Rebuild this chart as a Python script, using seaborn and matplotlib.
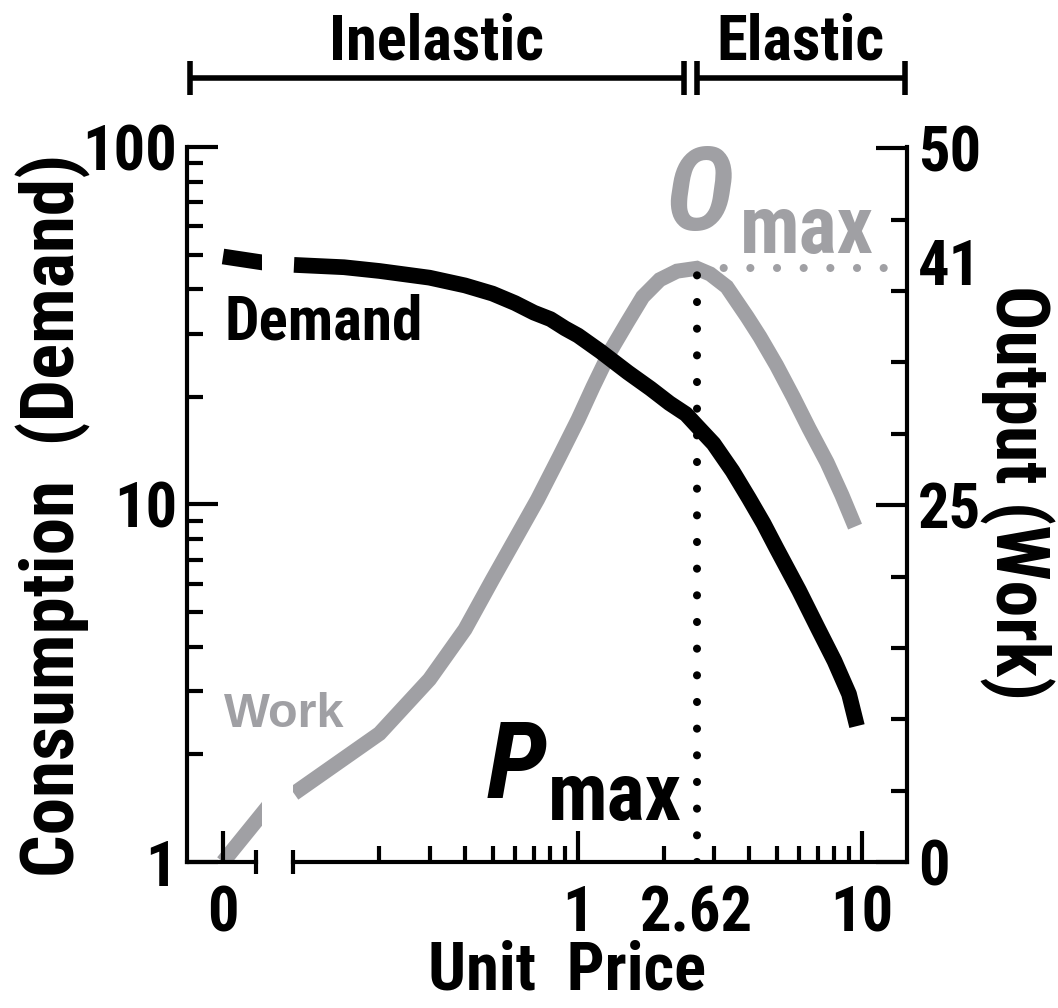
import numpy as np
import pandas as pd
import matplotlib
matplotlib.use("Agg")
import matplotlib.pyplot as plt
import seaborn as sns
from matplotlib import font_manager
from matplotlib.lines import Line2D
from matplotlib.ticker import FixedLocator, FixedFormatter, NullFormatter

# ---------------- data ----------------
demand_price = [0, 0.1, 0.15, 0.2, 0.3, 0.4, 0.5, 0.6, 0.7, 0.8, 0.9, 1.0, 1.2, 1.5, 1.8, 2.1, 2.4,
                2.62, 3.0, 3.5, 4.0, 4.5, 5.0, 6.0, 7.0, 8.0, 9.0, 9.6]
demand_consumption = [49.4, 46.8, 46.1, 45.0, 43.1, 41.0, 38.9, 36.6, 34.4, 33.0, 31.1, 29.7, 26.8, 23.4,
                      21.1, 19.2, 17.9, 16.6, 14.8, 12.4, 10.4, 8.85, 7.54, 5.75, 4.5, 3.65, 2.95, 2.4]

work_price = [0, 0.1, 0.2, 0.3, 0.4, 0.5, 0.62, 0.72, 0.86, 1.0, 1.13, 1.3, 1.49, 1.69, 1.94, 2.23, 2.62,
              2.92, 3.34, 3.94, 4.37, 5.0, 5.72, 6.5, 7.53, 8.5, 9.45]
work_output = [0, 4.8, 9.0, 12.8, 16.3, 19.8, 23.1, 25.4, 28.4, 31.0, 33.3, 35.8, 37.8, 39.6, 40.8, 41.4,
               41.6, 41.2, 40.3, 38.2, 36.8, 34.8, 32.6, 30.4, 28.0, 25.7, 23.5]

p_max = 2.62
o_max = 41.6
o_max_label = "41"

x_major_ticks = [1, p_max, 10]
x_major_labels = ["1", "2.62", "10"]
y_left_ticks = [1, 10, 100]
y_left_labels = ["1", "10", "100"]
y_right_ticks = [0, 25, 50]
y_right_labels = ["0", "25", "50"]
y_right_minor = [5, 10, 15, 20, 30, 35, 40, 45]

# ---------------- style ----------------
sns.set_theme(style="ticks")

COND = ("condensed", "semi-condensed", "extra-condensed", "ultra-condensed")


def _w(f):
    w = f.weight
    if isinstance(w, str):
        w = font_manager.weight_dict.get(w, 400)
    return int(w)


ttf = font_manager.fontManager.ttflist
cond = [f for f in ttf if ("Narrow" in f.name or "Condensed" in f.name or str(f.stretch) in COND)
        and _w(f) >= 600]
pref = ["Liberation Sans Narrow", "Arial Narrow", "Roboto Condensed", "Open Sans Condensed",
        "Noto Sans Condensed", "Noto Sans", "Open Sans", "Roboto", "Inter", "DejaVu Sans"]
chosen, stretch = None, "normal"
for p in pref:
    m = [f for f in cond if f.name == p]
    if m:
        chosen = p
        stretch = str(m[0].stretch) if str(m[0].stretch) in COND else "normal"
        break
if chosen is None and cond:
    chosen = cond[0].name
    stretch = str(cond[0].stretch) if str(cond[0].stretch) in COND else "normal"
narrow = chosen is not None
if not narrow:
    chosen = "Liberation Sans"
SC = 1.0 if narrow else 0.9

plt.rcParams["font.family"] = [chosen, "Liberation Sans", "DejaVu Sans"]
plt.rcParams["font.stretch"] = stretch
plt.rcParams["font.weight"] = "bold"
plt.rcParams["axes.linewidth"] = 3
plt.rcParams["axes.edgecolor"] = "black"
plt.rcParams["text.color"] = "black"
WIDE = ["Liberation Sans", "DejaVu Sans"]

GRAY = "#a0a0a4"
W, H = 1058, 1008
fig = plt.figure(figsize=(W / 100, H / 100), dpi=100)


def box(x0, x1, ytop, ybot):
    return [x0 / W, 1 - ybot / H, (x1 - x0) / W, (ybot - ytop) / H]


ax_l = fig.add_axes(box(187, 262, 147, 862))
ax_r = fig.add_axes(box(293, 907, 147, 862))
ax_lw = ax_l.twinx()
ax_rw = ax_r.twinx()
for a, tw in ((ax_l, ax_lw), (ax_r, ax_rw)):
    tw.set_zorder(a.get_zorder() - 1)
    a.patch.set_visible(False)

dem = pd.DataFrame({"price": demand_price, "consumption": demand_consumption})
wrk = pd.DataFrame({"price": work_price, "output": work_output})

LW_D = 11.3
LW_W = 10.8
sns.lineplot(data=dem[dem.price <= 0.1], x="price", y="consumption", ax=ax_l,
             color="black", lw=LW_D, solid_capstyle="butt")
sns.lineplot(data=dem[dem.price > 0], x="price", y="consumption", ax=ax_r,
             color="black", lw=LW_D, solid_capstyle="butt", solid_joinstyle="round")
sns.lineplot(data=wrk[wrk.price <= 0.1], x="price", y="output", ax=ax_lw,
             color=GRAY, lw=LW_W, solid_capstyle="butt")
sns.lineplot(data=wrk[wrk.price > 0], x="price", y="output", ax=ax_rw,
             color=GRAY, lw=LW_W, solid_capstyle="butt", solid_joinstyle="miter")

# scales / limits
for a in (ax_l, ax_r):
    a.set_yscale("log")
    a.set_ylim(1, 100)
for a in (ax_lw, ax_rw):
    a.set_ylim(0, 50.1)
ax_r.set_xscale("log")
ax_r.set_xlim(0.0992, 14.4)
ax_l.set_xlim(-0.0649, 0.0703)
ax_lw.set_xlim(ax_l.get_xlim())

# Omax / Pmax guide lines
ax_rw.plot([p_max, p_max], [0, o_max], color="black", lw=5.8, ls=(0, (0.01, 3.3)),
           dash_capstyle="round", zorder=5)
ax_rw.plot([p_max, ax_r.get_xlim()[1]], [o_max, o_max], color=GRAY, lw=5.8,
           ls=(0, (0.01, 3.3)), dash_capstyle="round", clip_on=False, zorder=1)

for a in (ax_l, ax_r, ax_lw, ax_rw):
    a.set_xlabel("")
    a.set_ylabel("")
    a.grid(False)

# spines
for s in ["top", "right"]:
    ax_l.spines[s].set_visible(False)
for s in ["top", "right", "left"]:
    ax_r.spines[s].set_visible(False)
for s in ["top", "right", "left", "bottom"]:
    ax_lw.spines[s].set_visible(False)
for s in ["top", "left", "bottom"]:
    ax_rw.spines[s].set_visible(False)
ax_rw.spines["right"].set_linewidth(3)
gap_end = 0.0595
ax_l.spines["bottom"].set_bounds(ax_l.get_xlim()[0], gap_end)

TL_MAJ, TL_MIN, TW = 22, 11.5, 3
FS = 45 * SC

# left axis (log consumption)
ax_l.yaxis.set_major_locator(FixedLocator(y_left_ticks))
ax_l.yaxis.set_major_formatter(FixedFormatter(y_left_labels))
ax_l.yaxis.set_minor_locator(FixedLocator([v * d for d in (1, 10) for v in range(2, 10)]))
ax_l.yaxis.set_minor_formatter(NullFormatter())
ax_l.xaxis.set_major_locator(FixedLocator([0]))
ax_l.xaxis.set_major_formatter(FixedFormatter(["0"]))
ax_l.tick_params(axis="both", which="major", direction="in", length=TL_MAJ, width=TW,
                 labelsize=FS, color="black", labelcolor="black")
ax_l.tick_params(axis="y", which="major", pad=7)
ax_l.tick_params(axis="x", which="major", pad=16)
ax_l.tick_params(axis="both", which="minor", direction="in", length=TL_MIN, width=TW, color="black")
ax_l.tick_params(axis="x", which="minor", bottom=False)
ax_lw.tick_params(axis="both", which="both", left=False, right=False, labelright=False,
                  labelleft=False, bottom=False, labelbottom=False)

# bottom axis (log price)
ax_r.xaxis.set_major_locator(FixedLocator(x_major_ticks))
ax_r.xaxis.set_major_formatter(FixedFormatter(x_major_labels))
ax_r.xaxis.set_minor_locator(FixedLocator([v * d for d in (0.1, 1) for v in range(2, 10)]))
ax_r.xaxis.set_minor_formatter(NullFormatter())
ax_r.tick_params(axis="x", which="major", direction="in", length=TL_MAJ, width=TW,
                 labelsize=FS, pad=16, color="black", labelcolor="black")
ax_r.tick_params(axis="x", which="minor", direction="in", length=TL_MIN, width=TW, color="black")
ax_r.tick_params(axis="y", which="both", left=False, labelleft=False, right=False)
for t, v in zip(ax_r.xaxis.get_major_ticks(), x_major_ticks):
    if v == p_max:
        t.tick1line.set_visible(False)

# right axis (work output)
ax_rw.yaxis.set_major_locator(FixedLocator(y_right_ticks))
ax_rw.yaxis.set_major_formatter(FixedFormatter(y_right_labels))
ax_rw.yaxis.set_minor_locator(FixedLocator(y_right_minor))
ax_rw.yaxis.set_minor_formatter(NullFormatter())
ax_rw.tick_params(axis="y", which="major", direction="in", length=TL_MAJ, width=TW,
                  labelsize=FS, pad=8, color="black", labelcolor="black")
ax_rw.tick_params(axis="y", which="minor", direction="in", length=TL_MIN, width=TW, color="black")
ax_rw.annotate(o_max_label, xy=(1.0, o_max), xycoords=ax_rw.get_yaxis_transform(),
               xytext=(8, 0), textcoords="offset points", ha="left", va="center",
               fontsize=FS, fontweight="bold", annotation_clip=False)

# axis break caps
ax_l.plot([gap_end], [1], marker="|", ms=17, mew=3, color="black", clip_on=False, zorder=10)
ax_r.plot([ax_r.get_xlim()[0]], [1], marker="|", ms=17, mew=3, color="black", clip_on=False, zorder=10)

# ---------------- text labels ----------------
def fx(px):
    return px / W


def fy(py):
    return 1 - py / H


fig.text(fx(53), fy(515), "Consumption  (Demand)", rotation=90, ha="center", va="center",
         fontsize=54 * SC, fontweight="bold")
fig.text(fx(1017), fy(492), "Output (Work)", rotation=270, ha="center", va="center",
         fontsize=53 * SC, fontweight="bold")
fig.text(fx(567), fy(990), "Unit  Price", ha="center", va="baseline", fontsize=48 * SC, fontweight="bold")
fig.text(fx(224), fy(340), "Demand", ha="left", va="baseline", fontsize=44 * SC, fontweight="bold")
fig.text(fx(224), fy(727), "Work", ha="left", va="baseline", fontsize=35, fontweight="bold", color=GRAY,
         family=WIDE)
fig.text(fx(487), fy(798), "P", ha="left", va="baseline", fontsize=78 * SC, fontweight="bold",
         fontstyle="italic")
fig.text(fx(548), fy(820), "max", ha="left", va="baseline", fontsize=58 * SC, fontweight="bold")
fig.text(fx(666), fy(230), "O", ha="left", va="baseline", fontsize=84 * SC, fontweight="bold",
         fontstyle="italic", color=GRAY)
fig.text(fx(740), fy(253), "max", ha="left", va="baseline", fontsize=58 * SC, fontweight="bold", color=GRAY)

# ---------------- elasticity brackets ----------------
inv = fig.transFigure.inverted()
x_left = ax_l.transAxes.transform((0, 0))[0] + 3
x_p = ax_r.transData.transform((p_max, 1))[0]
x_right = ax_r.transAxes.transform((1, 0))[0] - 2
y_line = H - 78
cap = 17


def seg(x0, y0, x1, y1):
    (a0, b0), (a1, b1) = inv.transform([(x0, y0), (x1, y1)])
    fig.add_artist(Line2D([a0, a1], [b0, b1], color="black", lw=4, solid_capstyle="butt"))


x_in_end = x_p - 13
for (xa, xb) in ((x_left, x_in_end), (x_p, x_right)):
    seg(xa, y_line, xb, y_line)
    seg(xa, y_line - cap, xa, y_line + cap)
    seg(xb, y_line - cap, xb, y_line + cap)

fig.text(fx((x_left + x_in_end) / 2), fy(60), "Inelastic", ha="center", va="baseline",
         fontsize=45 * SC, fontweight="bold")
fig.text(fx((x_p + x_right) / 2), fy(60), "Elastic", ha="center", va="baseline",
         fontsize=45 * SC, fontweight="bold")

fig.savefig("out.png", dpi=100)
